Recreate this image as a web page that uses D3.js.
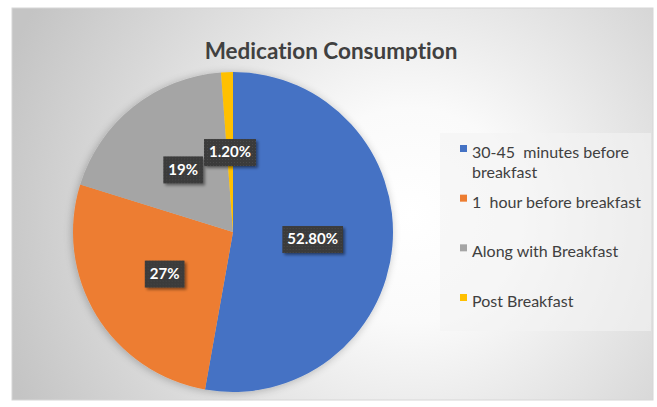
<!DOCTYPE html>
<html>
<head>
<meta charset="utf-8">
<script src="https://cdn.jsdelivr.net/npm/d3@7"></script>
<style>
  html, body { margin: 0; padding: 0; background: #ffffff; }
  svg { display: block; }
  text { font-variant-ligatures: none; font-feature-settings: "liga" 0; }
</style>
</head>
<body>
<svg id="chart" width="657" height="407"></svg>
<script>
// Share of respondents by time of taking medication
const categories = ["30-45  minutes before breakfast", "1  hour before breakfast", "Along with Breakfast", "Post Breakfast"];
const legendLines = [["30-45  minutes before", "breakfast"], ["1  hour before breakfast"], ["Along with Breakfast"], ["Post Breakfast"]];
const values = [52.8, 27, 19, 1.2];
const valueLabels = ["52.80%", "27%", "19%", "1.20%"];
const colors = ["#4472c4", "#ed7d31", "#a5a5a5", "#ffc000"];

const W = 657, H = 407;
const FONT = "Lato, 'Open Sans', sans-serif";
const svg = d3.select("#chart");
const defs = svg.append("defs");

// chart area background: soft radial light
const grad = defs.append("radialGradient").attr("id", "bg")
  .attr("gradientUnits", "userSpaceOnUse")
  .attr("cx", 410).attr("cy", 215).attr("r", 430);
grad.append("stop").attr("offset", "0").attr("stop-color", "#ffffff");
grad.append("stop").attr("offset", "0.25").attr("stop-color", "#fafafa");
grad.append("stop").attr("offset", "0.7").attr("stop-color", "#d9d9d9");
grad.append("stop").attr("offset", "1").attr("stop-color", "#c4c4c4");

const shadow = defs.append("filter").attr("id", "pieShadow")
  .attr("x", "-20%").attr("y", "-20%").attr("width", "140%").attr("height", "140%");
shadow.append("feGaussianBlur").attr("in", "SourceAlpha").attr("stdDeviation", 4).attr("result", "b");
shadow.append("feOffset").attr("in", "b").attr("dx", -1).attr("dy", 1).attr("result", "o");
shadow.append("feComponentTransfer").attr("in", "o").attr("result", "s")
  .append("feFuncA").attr("type", "linear").attr("slope", 0.25);
const sm = shadow.append("feMerge");
sm.append("feMergeNode").attr("in", "s");
sm.append("feMergeNode").attr("in", "SourceGraphic");

const boxShadow = defs.append("filter").attr("id", "boxShadow")
  .attr("x", "-20%").attr("y", "-30%").attr("width", "150%").attr("height", "170%");
boxShadow.append("feGaussianBlur").attr("in", "SourceAlpha").attr("stdDeviation", 1.5).attr("result", "b");
boxShadow.append("feOffset").attr("in", "b").attr("dx", 2).attr("dy", 2).attr("result", "o");
boxShadow.append("feComponentTransfer").attr("in", "o").attr("result", "s")
  .append("feFuncA").attr("type", "linear").attr("slope", 0.45);
const bm = boxShadow.append("feMerge");
bm.append("feMergeNode").attr("in", "s");
bm.append("feMergeNode").attr("in", "SourceGraphic");

// dotted texture inside the data label boxes
const pat = defs.append("pattern").attr("id", "dots")
  .attr("patternUnits", "userSpaceOnUse").attr("width", 3).attr("height", 3);
pat.append("rect").attr("width", 3).attr("height", 3).attr("fill", "#3a3a3a");
pat.append("rect").attr("x", 1).attr("y", 1).attr("width", 1).attr("height", 1).attr("fill", "#4a4a4a");

// frame
const frame = { x: 12, y: 8, w: 641, h: 392 };
svg.append("rect")
  .attr("x", frame.x).attr("y", frame.y).attr("width", frame.w).attr("height", frame.h)
  .attr("fill", "url(#bg)").attr("stroke", "#d6d6d6").attr("stroke-width", 1);

// title, clipped just under the baseline
defs.append("clipPath").attr("id", "titleClip")
  .append("rect").attr("x", 0).attr("y", 0).attr("width", W).attr("height", 61);
svg.append("text")
  .attr("clip-path", "url(#titleClip)")
  .attr("x", 331).attr("y", 59)
  .attr("text-anchor", "middle")
  .attr("font-family", FONT)
  .attr("font-weight", "bold")
  .attr("font-size", 22.5)
  .attr("fill", "#404040")
  .text("Medication Consumption");

// pie
const cx = 233, cy = 232, R = 160;
const pie = d3.pie().sort(null).value(d => d)(values);
const arc = d3.arc().innerRadius(0).outerRadius(R);

const g = svg.append("g").attr("transform", `translate(${cx},${cy})`);
g.append("g").attr("filter", "url(#pieShadow)")
  .selectAll("path").data(pie).join("path")
  .attr("d", arc)
  .attr("fill", (d, i) => colors[i]);

// data labels
const lab = g.selectAll("g.lab").data(pie).join("g").attr("class", "lab")
  .attr("transform", d => `translate(${arc.centroid(d)})`);
lab.each(function(d, i) {
  const sel = d3.select(this);
  const t = sel.append("text")
    .attr("text-anchor", "middle")
    .attr("dy", "0.35em")
    .attr("font-family", FONT)
    .attr("font-weight", "bold")
    .attr("font-size", 15)
    .attr("fill", "#ffffff")
    .text(valueLabels[i]);
  const bb = t.node().getBBox();
  sel.insert("rect", "text")
    .attr("x", bb.x - 5).attr("y", -13)
    .attr("width", bb.width + 10).attr("height", 27)
    .attr("fill", "url(#dots)")
    .attr("filter", "url(#boxShadow)");
});

// legend
const legend = svg.append("g");
legend.append("rect")
  .attr("x", 440).attr("y", 133).attr("width", 211).attr("height", 198)
  .attr("fill", "#f4f4f4").attr("opacity", 0.6);

const legendY = d3.scalePoint().domain(d3.range(categories.length)).range([158, 307]);
const items = legend.selectAll("g.item").data(categories).join("g").attr("class", "item")
  .attr("transform", (d, i) => `translate(0,${legendY(i)})`);
items.append("rect")
  .attr("x", 460).attr("y", -13).attr("width", 7).attr("height", 7)
  .attr("fill", (d, i) => colors[i]);
items.append("text")
  .attr("font-family", FONT)
  .attr("font-size", 16)
  .attr("fill", "#404040")
  .each(function(d, i) {
    d3.select(this).selectAll("tspan").data(legendLines[i]).join("tspan")
      .attr("x", 472)
      .attr("dy", (s, k) => k === 0 ? 0 : 20)
      .attr("xml:space", "preserve")
      .text(s => s);
  });
</script>
</body>
</html>
